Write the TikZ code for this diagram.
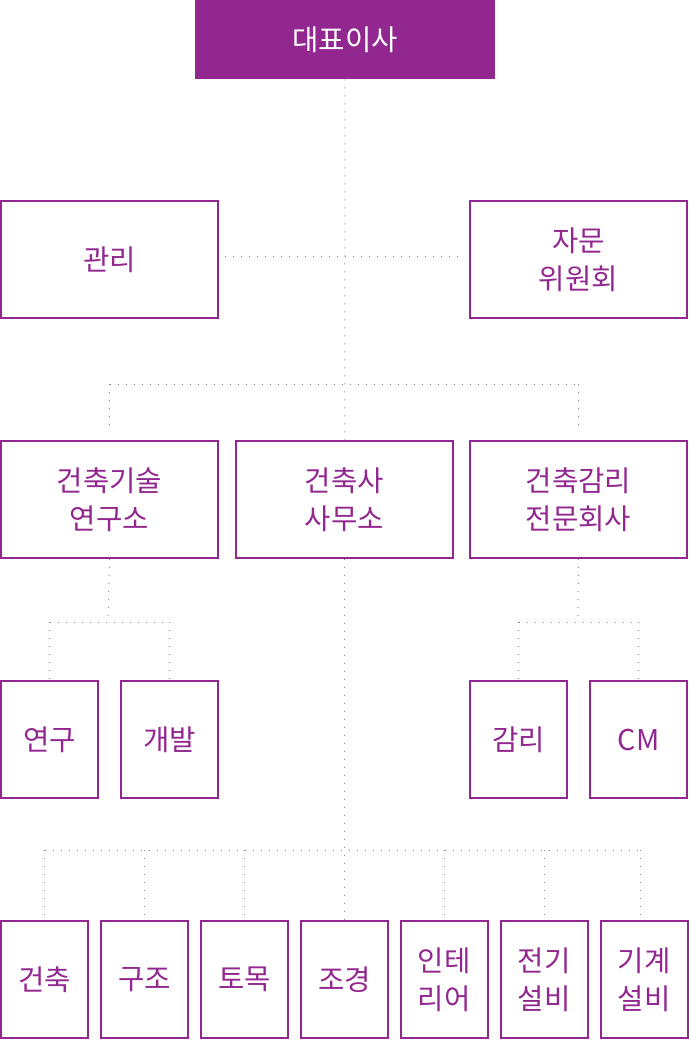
\documentclass[tikz,border=0pt]{standalone}
\usepackage{fontspec}
\setmainfont{Noto Sans CJK KR}
\usepackage{tikz}

\definecolor{brand}{HTML}{92278F}
\definecolor{dotgray}{HTML}{8C8C8C}
\tikzset{
  org/.style={draw=brand, line width=1.5pt, text=brand, inner sep=0pt, align=center,
    font=\fontsize{21.5}{28.5}\selectfont},
  wide/.style={org, minimum width=0.75pt*217, minimum height=0.75pt*117},
  half/.style={org, minimum width=0.75pt*97, minimum height=0.75pt*117},
  slim/.style={org, minimum width=0.75pt*87, minimum height=0.75pt*117},
  link/.style={dotgray, line width=0.75pt, dash pattern=on 0.75pt off 5.25pt},
}

\begin{document}
\begin{tikzpicture}[x=0.75pt, y=-0.75pt]
    \useasboundingbox (0,0) rectangle (689,1040);
    % top
    \node[fill=brand, text=white, inner sep=0pt, minimum width=0.75pt*300, minimum height=0.75pt*79,
      font=\fontsize{21.5}{28.5}\selectfont] (ceo) at (345,39.5) {대표이사};
    \node[wide] (admin) at (109.5,259.5) {관리};
    \node[wide] (advisory) at (578.5,259.5) {자문\\위원회};
    % second row
    \node[wide] (lab) at (109.5,499.5) {건축기술\\연구소};
    \node[wide] (office) at (344.5,499.5) {건축사\\사무소};
    \node[wide] (supervision) at (578.5,499.5) {건축감리\\전문회사};
    % third row
    \node[half] (research) at (49.5,739.5) {연구};
    \node[half] (develop) at (169.5,739.5) {개발};
    \node[half] (inspect) at (518.5,739.5) {감리};
    \node[half] (cm) at (638.5,739.5) {CM};
    % bottom row
    \node[slim] (arch) at (44.5,979.5) {건축};
    \node[slim] (struct) at (144.5,979.5) {구조};
    \node[slim] (civil) at (244.5,979.5) {토목};
    \node[slim] (landscape) at (344.5,979.5) {조경};
    \node[slim] (interior) at (444,979.5) {인테\\리어};
    \node[slim] (electric) at (544,979.5) {전기\\설비};
    \node[slim] (mechanic) at (644,979.5) {기계\\설비};

    \coordinate (j1) at (345,384);
    \coordinate (j2) at (108,622);
    \coordinate (j3) at (578,622);
    \coordinate (j4) at (345,850);
    \coordinate (j4r) at (640,850);

    \draw[link] (ceo.south) -- (office.north);
    \draw[link, shorten <=4.5pt, shorten >=3pt] ([yshift=2.25pt]admin.east) -- ([yshift=2.25pt]advisory.west);
    \draw[link] (lab.north |- j1) -- (supervision.north |- j1);
    \draw[link, shorten >=11.25pt] (lab.north |- j1) -- (lab.north);
    \draw[link, shorten >=11.25pt] (supervision.north |- j1) -- (supervision.north);

    \draw[link] (lab.south) -- (j2);
    \draw[link] (research.north |- j2) -- (develop.north |- j2);
    \draw[link] (research.north |- j2) -- (research.north);
    \draw[link] (develop.north |- j2) -- (develop.north);

    \draw[link] (supervision.south) -- (j3);
    \draw[link] (inspect.north |- j3) -- (cm.north |- j3);
    \draw[link] (inspect.north |- j3) -- (inspect.north);
    \draw[link] (cm.north |- j3) -- (cm.north);

    \draw[link] (office.south) -- (landscape.north);
    \draw[link] (arch.north |- j4) -- (j4r);
    \draw[link, shorten >=3.75pt] (arch.north |- j4) -- (arch.north);
    \draw[link, shorten >=3.75pt] (struct.north |- j4) -- (struct.north);
    \draw[link, shorten >=3.75pt] (civil.north |- j4) -- (civil.north);
    \draw[link, shorten >=3.75pt] (interior.north |- j4) -- (interior.north);
    \draw[link, shorten >=3.75pt] (electric.north |- j4) -- (electric.north);
    \draw[link, shorten >=3.75pt] (j4r) -- (j4r |- mechanic.north);
\end{tikzpicture}
\end{document}
